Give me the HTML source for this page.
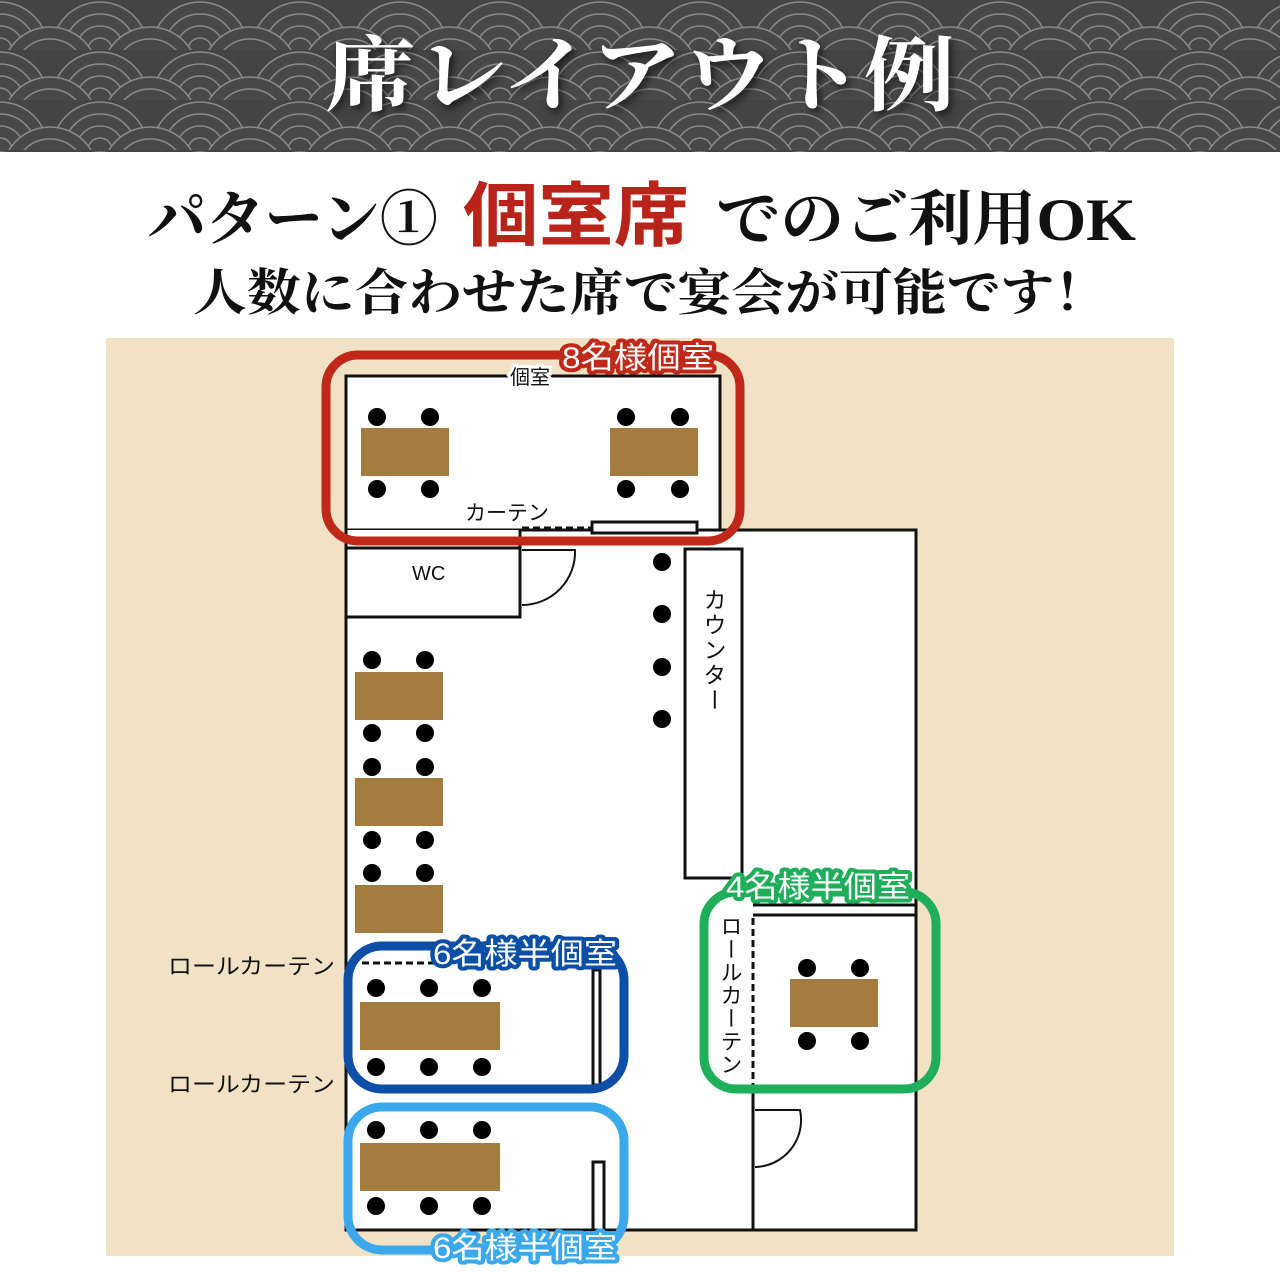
<!DOCTYPE html>
<html><head><meta charset="utf-8"><style>html,body{margin:0;padding:0;background:#fff}svg{display:block}</style></head><body>
<svg width="1280" height="1280" viewBox="0 0 1280 1280" xmlns="http://www.w3.org/2000/svg">
<defs>
<pattern id="sg" width="100" height="50" patternUnits="userSpaceOnUse">
<rect width="100" height="50" fill="#444"/>
<g fill="#484848" stroke="#8a8a8a" stroke-width="1.5">
<circle cx="0" cy="50" r="48"/><circle cx="0" cy="50" r="36"/><circle cx="0" cy="50" r="24"/><circle cx="0" cy="50" r="12"/>
<circle cx="100" cy="50" r="48"/><circle cx="100" cy="50" r="36"/><circle cx="100" cy="50" r="24"/><circle cx="100" cy="50" r="12"/>
<circle cx="50" cy="75" r="48"/><circle cx="50" cy="75" r="36"/><circle cx="50" cy="75" r="24"/><circle cx="50" cy="75" r="12"/>
</g>
</pattern>
</defs>
<rect x="0" y="0" width="1280" height="152" fill="url(#sg)"/>
<text x="640" y="104" text-anchor="middle" font-family="Liberation Serif,'Noto Serif CJK SC',serif" font-size="82" font-weight="bold" fill="#fff" textLength="630" lengthAdjust="spacingAndGlyphs" style="filter:drop-shadow(3px 4px 4px rgba(0,0,0,.6))">席レイアウト例</text>

<g font-family="Liberation Serif,'Noto Serif CJK SC',serif" font-weight="bold">
<text x="148" y="240" font-size="60" fill="#111" textLength="290" lengthAdjust="spacingAndGlyphs">パターン①</text>
<text x="463" y="240" font-size="70" fill="#b8231a" font-family="Liberation Sans,'Noto Sans CJK JP',sans-serif" textLength="226" lengthAdjust="spacingAndGlyphs">個室席</text>
<text x="716" y="240" font-size="60" fill="#111" textLength="420" lengthAdjust="spacingAndGlyphs">でのご利用OK</text>
<text x="193" y="310" font-size="50" fill="#111" textLength="915" lengthAdjust="spacingAndGlyphs">人数に合わせた席で宴会が可能です！</text>
</g>

<rect x="106" y="338" width="1068" height="918" fill="#f1e2c6"/>

<g stroke="#111" stroke-width="3" fill="#fff">
<rect x="346" y="376" width="374" height="154"/>
<path d="M346 530 V1230 H916 V530 H520"/>
<rect x="346" y="548" width="174" height="69"/>
<rect x="685" y="549" width="57" height="329"/>
<rect x="592" y="522" width="105" height="11"/>
<rect x="593" y="970" width="7" height="115"/>
<rect x="593" y="1162" width="11" height="68"/>
</g>
<g stroke="#111" fill="none">
<path d="M520 530 V548" stroke-width="3"/>
<path d="M522 528 H592" stroke-width="3" stroke-dasharray="7,4"/>
<path d="M522 550 H575 A53 53 0 0 1 522 605" stroke-width="2"/>
<path d="M362 963 H440" stroke-width="3" stroke-dasharray="7,4"/>
<path d="M753 905 H916 M753 915 H916" stroke-width="3"/>
<path d="M753 918 V1085" stroke-width="3" stroke-dasharray="7,4"/>
<path d="M753 1085 V1230" stroke-width="3"/>
<path d="M755 1110 H800 A47 47 0 0 1 755 1167" stroke-width="2"/>
</g>

<g fill="#a57c3f">
<rect x="361" y="428" width="88" height="48"/><rect x="610" y="428" width="88" height="48"/>
<rect x="355" y="672" width="88" height="48"/><rect x="355" y="778" width="88" height="48"/><rect x="355" y="885" width="88" height="48"/>
<rect x="360" y="1002" width="140" height="48"/><rect x="360" y="1143" width="140" height="48"/>
<rect x="790" y="979" width="88" height="48"/>
</g>
<g fill="#000">
<circle cx="377" cy="417" r="9"/><circle cx="430" cy="417" r="9"/><circle cx="377" cy="489" r="9"/><circle cx="430" cy="489" r="9"/>
<circle cx="626" cy="417" r="9"/><circle cx="680" cy="417" r="9"/><circle cx="626" cy="489" r="9"/><circle cx="680" cy="489" r="9"/>
<circle cx="662" cy="562" r="9"/><circle cx="662" cy="614" r="9"/><circle cx="662" cy="667" r="9"/><circle cx="662" cy="719" r="9"/>
<circle cx="372" cy="660" r="9"/><circle cx="425" cy="660" r="9"/><circle cx="372" cy="733" r="9"/><circle cx="425" cy="733" r="9"/>
<circle cx="372" cy="767" r="9"/><circle cx="425" cy="767" r="9"/><circle cx="372" cy="840" r="9"/><circle cx="425" cy="840" r="9"/>
<circle cx="372" cy="873" r="9"/><circle cx="425" cy="873" r="9"/>
<circle cx="376" cy="988" r="9"/><circle cx="429" cy="988" r="9"/><circle cx="482" cy="988" r="9"/>
<circle cx="376" cy="1067" r="9"/><circle cx="429" cy="1067" r="9"/><circle cx="482" cy="1067" r="9"/>
<circle cx="376" cy="1130" r="9"/><circle cx="429" cy="1130" r="9"/><circle cx="482" cy="1130" r="9"/>
<circle cx="376" cy="1206" r="9"/><circle cx="429" cy="1206" r="9"/><circle cx="482" cy="1206" r="9"/>
<circle cx="807" cy="968" r="9"/><circle cx="860" cy="968" r="9"/><circle cx="807" cy="1041" r="9"/><circle cx="860" cy="1041" r="9"/>
</g>

<g font-family="Liberation Sans,'Noto Sans CJK JP',sans-serif" fill="#111" font-size="20">
<text x="510" y="384" fill="#111" style="paint-order:stroke" stroke="#fff" stroke-width="6">個室</text>
<text x="465" y="520" font-size="21">カーテン</text>
<text x="412" y="580">WC</text>
<text x="168" y="974" font-size="22" textLength="167" lengthAdjust="spacingAndGlyphs">ロールカーテン</text>
<text x="168" y="1092" font-size="22" textLength="167" lengthAdjust="spacingAndGlyphs">ロールカーテン</text>
<text writing-mode="tb" x="713" y="588" font-size="23" letter-spacing="2">カウンター</text>
<text writing-mode="tb" x="730" y="915" font-size="22" letter-spacing="1">ロールカーテン</text>
</g>

<g fill="none" stroke-width="9">
<rect x="326" y="355" width="414" height="186" rx="32" stroke="#c0281a"/>
<rect x="348" y="946" width="276" height="143" rx="34" stroke="#0d4ea6"/>
<rect x="348" y="1107" width="276" height="143" rx="34" stroke="#3aa8ea"/>
<rect x="704" y="892" width="232" height="197" rx="32" stroke="#1fae5a"/>
</g>

<g font-family="Liberation Sans,'Noto Sans CJK JP',sans-serif" font-size="30" fill="#fff" stroke-width="8" style="paint-order:stroke" stroke-linejoin="round">
<text x="638" y="368" text-anchor="middle" stroke="#c0281a" textLength="152" lengthAdjust="spacingAndGlyphs">8名様個室</text>
<text x="525" y="964" text-anchor="middle" stroke="#0d4ea6" textLength="184" lengthAdjust="spacingAndGlyphs">6名様半個室</text>
<text x="525" y="1258" text-anchor="middle" stroke="#3aa8ea" textLength="184" lengthAdjust="spacingAndGlyphs">6名様半個室</text>
<text x="818" y="897" text-anchor="middle" stroke="#1fae5a" textLength="184" lengthAdjust="spacingAndGlyphs">4名様半個室</text>
</g>
</svg>
</body></html>
